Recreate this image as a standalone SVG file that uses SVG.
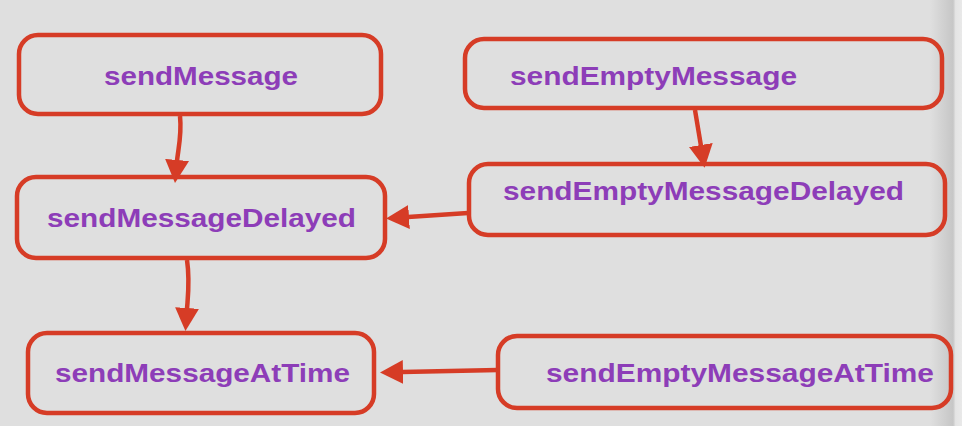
<svg xmlns="http://www.w3.org/2000/svg" width="962" height="426" viewBox="0 0 962 426">
  <defs>
    <linearGradient id="edge" x1="0" y1="0" x2="1" y2="0">
      <stop offset="0" stop-color="#dfdfdf"/>
      <stop offset="0.72" stop-color="#c6c6c6"/>
      <stop offset="0.8" stop-color="#e4e4e4"/>
      <stop offset="1" stop-color="#e9e9e9"/>
    </linearGradient>
    <marker id="head" markerUnits="userSpaceOnUse" markerWidth="24" markerHeight="26" viewBox="0 -13 24 26" refX="1" refY="0" orient="auto">
      <path d="M0,-12 L23,0 L0,12 Z" fill="#d63c26"/>
    </marker>
    <style>
      .box { fill: none; stroke: #d63c26; stroke-width: 4.5; }
      .lbl { font-family: "Liberation Sans", Arial, Helvetica, sans-serif; font-weight: bold; font-size: 25px; fill: #8d3db8; }
      .edge { fill: none; stroke: #d63c26; stroke-width: 4.5; marker-end: url(#head); }
    </style>
  </defs>
  <rect x="0" y="0" width="962" height="426" fill="#dfdfdf"/>
  <rect x="930" y="0" width="32" height="426" fill="url(#edge)"/>

  <g id="connectors">
    <path class="edge" d="M180,116 C182,135 178,150 177,161"/>
    <path class="edge" d="M187,260 C190,280 188,295 187,309"/>
    <path class="edge" d="M695,110 L701,146"/>
    <path class="edge" d="M468,213 L408,217"/>
    <path class="edge" d="M498,370 L402,372"/>
  </g>

  <g id="sendMessage">
    <rect class="box" x="19" y="35" width="362" height="79" rx="19"/>
    <text class="lbl" x="104" y="85" textLength="194" lengthAdjust="spacingAndGlyphs">sendMessage</text>
  </g>
  <g id="sendMessageDelayed">
    <rect class="box" x="17" y="177" width="368" height="81" rx="19"/>
    <text class="lbl" x="47" y="227" textLength="309" lengthAdjust="spacingAndGlyphs">sendMessageDelayed</text>
  </g>
  <g id="sendEmptyMessage">
    <rect class="box" x="465" y="39" width="477" height="69" rx="19"/>
    <text class="lbl" x="510" y="85" textLength="287" lengthAdjust="spacingAndGlyphs">sendEmptyMessage</text>
  </g>
  <g id="sendEmptyMessageDelayed">
    <rect class="box" x="469" y="164" width="476" height="71" rx="19"/>
    <text class="lbl" x="503" y="200" textLength="401" lengthAdjust="spacingAndGlyphs">sendEmptyMessageDelayed</text>
  </g>
  <g id="sendMessageAtTime">
    <rect class="box" x="28" y="333" width="346" height="80" rx="19"/>
    <text class="lbl" x="55" y="382" textLength="295" lengthAdjust="spacingAndGlyphs">sendMessageAtTime</text>
  </g>
  <g id="sendEmptyMessageAtTime">
    <rect class="box" x="498" y="336" width="453" height="72" rx="19"/>
    <text class="lbl" x="546" y="382" textLength="388" lengthAdjust="spacingAndGlyphs">sendEmptyMessageAtTime</text>
  </g>
</svg>
